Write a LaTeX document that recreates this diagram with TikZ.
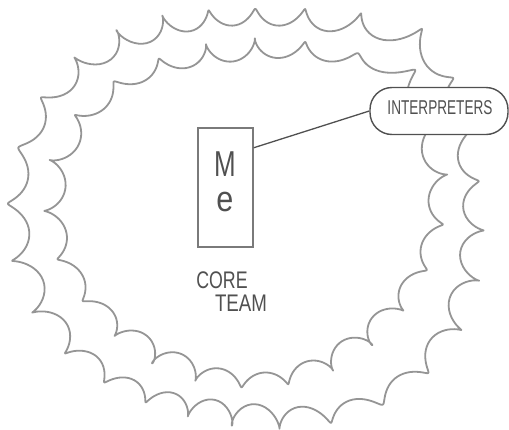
\documentclass[tikz,border=0pt]{standalone}
\usepackage{fontspec}
\setmainfont{Liberation Sans}
\usetikzlibrary{calc}
\definecolor{blobgray}{HTML}{959595}
\definecolor{inkgray}{HTML}{505050}
\definecolor{boxgray}{HTML}{7A7A7A}
\tikzset{
  declare function={
    ro(\t)=215.35-0.93*cos(\t)-0.22*sin(\t)+14.25*cos(2*\t)+5.5*sin(2*\t)-3.02*cos(3*\t)+0.28*sin(3*\t)-3.65*cos(4*\t)
           +32/(1+(2*sin((\t-315)/2)/0.25)^2);
    ri(\t)=177.25-0.46*cos(\t)-8.54*sin(\t)+12.5*cos(2*\t)-1.5*sin(2*\t)-2.54*cos(3*\t)-5.54*sin(3*\t)+0.25*cos(4*\t)
           +24/(1+(2*sin((\t-317)/2)/0.14)^2);
    phout(\t)=28*\t+35*sin(3*\t);
    phin(\t)=24*\t+35*sin(2*\t)+40;
    amp(\t)=1+0.2*sin(5*\t);
  },
  blob/.style={draw=blobgray, line width=1.8pt, line join=round},
  mebox/.style={draw=boxgray, line width=1.4pt, minimum width=55pt, minimum height=119pt, inner sep=0pt},
  bubble/.style={draw=inkgray, fill=white, line width=1.4pt, rounded corners=22pt, minimum width=138pt, minimum height=47pt, inner sep=0pt},
  hand/.style={text=inkgray, inner sep=0pt},
  link/.style={draw=inkgray, line width=1.3pt}
}
\begin{document}
\begin{tikzpicture}[x=1pt, y=-1pt]
\useasboundingbox (0,0) rectangle (509,429);
% outer blob
\draw[blob] plot[domain=0:359.5, samples=720, smooth cycle, variable=\t]
  ({248 + (ro(\t)+10*amp(\t)*sin(phout(\t)))*cos(\t) - 7*amp(\t)*cos(phout(\t))*sin(\t)},
   {218 + (ro(\t)+10*amp(\t)*sin(phout(\t)))*sin(\t) + 7*amp(\t)*cos(phout(\t))*cos(\t)});
% inner blob
\draw[blob] plot[domain=0:359.5, samples=720, smooth cycle, variable=\t]
  ({248 + (ri(\t)+9*amp(\t+40)*sin(phin(\t)))*cos(\t) - 7*amp(\t+40)*cos(phin(\t))*sin(\t)},
   {218 + (ri(\t)+9*amp(\t+40)*sin(phin(\t)))*sin(\t) + 7*amp(\t+40)*cos(phin(\t))*cos(\t)});
% Me box
\node[mebox] (me) at (225.5,187.5) {};
\node[hand, font=\fontsize{36}{40}\selectfont] (mM) at (225,164) {\scalebox{0.72}[1]{M}};
\node[hand, font=\fontsize{36}{40}\selectfont] (me2) at (225,202) {\scalebox{0.85}[1]{e}};
% core team
\node[hand, font=\fontsize{24}{28}\selectfont] (core) at (222,280) {\scalebox{0.74}[1]{CORE}};
\node[hand, font=\fontsize{24}{28}\selectfont] (team) at (241,303) {\scalebox{0.78}[1]{TEAM}};
% interpreters
\node[bubble] (interp) at (439,111) {};
\node[hand, font=\fontsize{20}{24}\selectfont] (interptext) at (440,108) {\scalebox{0.68}[1]{INTERPRETERS}};
% link
\coordinate (meport) at ($(me.north east)!0.17!(me.south east)$);
\draw[link] (meport) -- (interp.west);
\end{tikzpicture}
\end{document}
